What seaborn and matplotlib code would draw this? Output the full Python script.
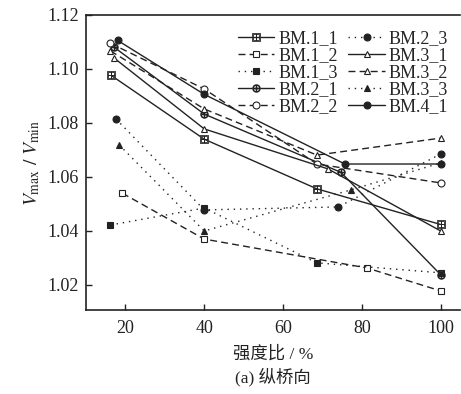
import matplotlib
matplotlib.use("Agg")
import matplotlib.pyplot as plt
import seaborn as sns

# series values (strength ratio %, Vmax/Vmin)
bm11_x = [16.4, 40, 68.6, 100]
bm11_y = [1.0976, 1.0740, 1.0556, 1.0424]
bm12_x = [19.2, 40, 81.3, 100]
bm12_y = [1.0540, 1.0370, 1.0263, 1.0178]
bm13_x = [16.2, 40, 68.6, 100]
bm13_y = [1.0422, 1.0485, 1.0282, 1.0245]
bm21_x = [17.0, 40, 74.7, 100]
bm21_y = [1.1082, 1.0833, 1.0617, 1.0238]
bm22_x = [16.2, 40, 68.6, 100]
bm22_y = [1.1095, 1.0926, 1.0648, 1.0578]
bm23_x = [17.6, 40, 74.0, 100]
bm23_y = [1.0815, 1.0478, 1.0489, 1.0685]
bm31_x = [17.0, 40, 71.4, 100]
bm31_y = [1.1042, 1.0778, 1.0630, 1.0400]
bm32_x = [16.2, 40, 68.6, 100]
bm32_y = [1.1067, 1.0852, 1.0681, 1.0744]
bm33_x = [18.4, 40, 77.2, 100]
bm33_y = [1.0719, 1.0400, 1.0552, 1.0652]
bm41_x = [18.0, 40, 75.7, 100]
bm41_y = [1.1106, 1.0906, 1.0648, 1.0648]

labels = ["BM.1_1", "BM.1_2", "BM.1_3", "BM.2_1", "BM.2_2",
          "BM.2_3", "BM.3_1", "BM.3_2", "BM.3_3", "BM.4_1"]
xs = [bm11_x, bm12_x, bm13_x, bm21_x, bm22_x, bm23_x, bm31_x, bm32_x, bm33_x, bm41_x]
ys = [bm11_y, bm12_y, bm13_y, bm21_y, bm22_y, bm23_y, bm31_y, bm32_y, bm33_y, bm41_y]

solid = "-"
dashed = (0, (5, 3))
dotted = (0, (1, 3.5))
# (marker, filled, linestyle)
styles = [
    (r"$\boxplus$", False, solid),
    ("s", False, dashed),
    ("s", True, dotted),
    (r"$\oplus$", False, solid),
    ("o", False, dashed),
    ("o", True, dotted),
    ("^", False, solid),
    ("^", False, dashed),
    ("^", True, dotted),
    ("o", True, solid),
]

sns.set_style("ticks")
plt.rcParams["font.family"] = ["Liberation Serif", "Noto Sans CJK SC"]
plt.rcParams["mathtext.fontset"] = "stix"

fig = plt.figure(figsize=(4.61, 3.94), dpi=100)
ax = fig.add_axes([0.1866, 0.213, 0.812, 0.749])

ink = "#222222"
for lab, x, y, (mk, filled, ls) in zip(labels, xs, ys, styles):
    ms = 5.5 if mk.startswith("$") else 5
    sns.lineplot(x=x, y=y, ax=ax, sort=False, color=ink, linestyle=ls,
                 linewidth=1.0, marker=mk, markersize=ms,
                 markerfacecolor=ink if filled else "white",
                 markeredgecolor=ink, markeredgewidth=0.6 if mk.startswith("$") else 0.8,
                 label=lab)

ax.set_xlim(10, 105)
ax.set_ylim(1.0107, 1.12)
ax.set_xticks([20, 40, 60, 80, 100])
ax.set_yticks([1.02, 1.04, 1.06, 1.08, 1.10, 1.12])
ax.set_yticklabels(["1.02", "1.04", "1.06", "1.08", "1.10", "1.12"])
ax.tick_params(direction="in", length=4, width=1, labelsize=13, colors=ink)
ax.tick_params(axis="x", pad=7)
ax.tick_params(axis="y", pad=5)
for side in ["left", "bottom", "top"]:
    ax.spines[side].set_linewidth(1.2)
    ax.spines[side].set_color(ink)
ax.spines["right"].set_visible(False)

ax.set_ylabel(r"$V_{\rm max}\ /\ V_{\rm min}$", fontsize=14, color=ink, labelpad=4)
ax.set_xlabel("强度比 / %\n(a) 纵桥向", fontsize=12.5, color=ink, linespacing=1.3, labelpad=7)

ax.legend(loc="upper right", bbox_to_anchor=(1.0, 0.99), ncol=2, frameon=False,
          fontsize=13, handlelength=2.0, handletextpad=0.2, columnspacing=0.6,
          labelspacing=0.0, borderpad=0.2)

fig.savefig("out.png", dpi=100)
